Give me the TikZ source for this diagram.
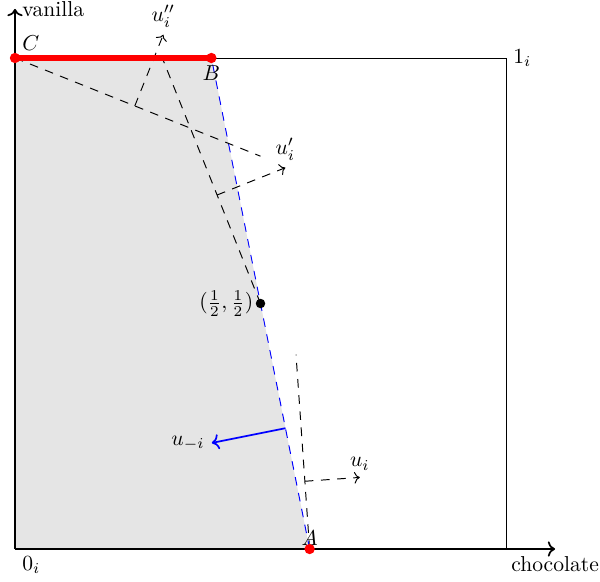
\documentclass[tikz,border=0pt]{standalone}
\usetikzlibrary{arrows.meta}
\begin{document}
\begin{tikzpicture}[x=8cm,y=8cm,
  guide/.style={dash pattern=on 4pt off 3.5pt, line width=0.45pt},
  guidearrow/.style={guide,->},
  reddot/.style={circle,fill=red,inner sep=0pt,minimum size=4.8pt},
  blackdot/.style={circle,fill=black,inner sep=0pt,minimum size=4.4pt},
  lbl/.style={inner sep=3.2pt}]
\useasboundingbox (-0.03055,-0.06517) rectangle (1.19145,1.11813);
% points
\coordinate (O) at (0,0);
\coordinate (A) at (0.6,0);
\coordinate (B) at (0.4,1);
\coordinate (C) at (0,1);
\coordinate (H) at (0.5,0.5);
\coordinate (one) at (1,1);
\coordinate (xend) at (1.1,0);
\coordinate (yend) at (0,1.1);
% guide lines
\coordinate (uiTop) at (0.5723,0.396);
\coordinate (uiBase) at (0.5903,0.138);
\coordinate (uiEnd) at (0.7023,0.1458);
\coordinate (upTop) at (0.3,1);
\coordinate (upBase) at (0.4116,0.721);
\coordinate (upEnd) at (0.5506,0.7766);
\coordinate (uppEnd0) at (0.5,0.8);
\coordinate (uppBase) at (0.244,0.9024);
\coordinate (uppEnd) at (0.302,1.0474);
\coordinate (umBase) at (0.5508,0.246);
\coordinate (umEnd) at (0.4008,0.216);
% shaded region
\fill[gray!20] (O) -- (A) -- (B) -- (C) -- cycle;
% box
\draw (O) rectangle (one);
% axes
\draw[thick,->] (O) -- (xend);
\draw[thick,->] (O) -- (yend);
% guides
\draw[guide] (A) -- (uiTop);
\draw[guidearrow] (uiBase) -- (uiEnd);
\draw[guide] (H) -- (upTop);
\draw[guidearrow] (upBase) -- (upEnd);
\draw[guide] (C) -- (uppEnd0);
\draw[guidearrow] (uppBase) -- (uppEnd);
% blue line and arrow
\draw[blue,dash pattern=on 4pt off 3.5pt,line width=0.45pt] (A) -- (B);
\draw[blue,thick,->] (umBase) -- (umEnd);
% red segment
\draw[red,line width=2.4pt] (C) -- (B);
% dots
\node[reddot] (dA) at (A) {};
\node[reddot] (dB) at (B) {};
\node[reddot] (dC) at (C) {};
\node[blackdot] (dH) at (H) {};
% labels
\node[lbl,anchor=north] (lchoc) at (xend) {chocolate};
\node[lbl,anchor=west] (lvan) at (yend) {vanilla};
\node[lbl,anchor=north west] (lzero) at (O) {$0_i$};
\node[lbl,anchor=west] (lone) at (one) {$1_i$};
\node[lbl,anchor=south west] (lC) at (C) {$C$};
\node[lbl,anchor=north] (lB) at (B) {$B$};
\node[lbl,anchor=south,inner sep=1.5pt] (lA) at (A) {$A$};
\node[lbl,anchor=east] (lH) at (H) {$(\frac{1}{2},\frac{1}{2})$};
\node[lbl,anchor=south] (lui) at (uiEnd) {$u_i$};
\node[lbl,anchor=south] (lup) at (upEnd) {$u_i'$};
\node[lbl,anchor=south] (lupp) at (uppEnd) {$u_i''$};
\node[lbl,anchor=east] (lum) at (umEnd) {$u_{-i}$};
\end{tikzpicture}
\end{document}
